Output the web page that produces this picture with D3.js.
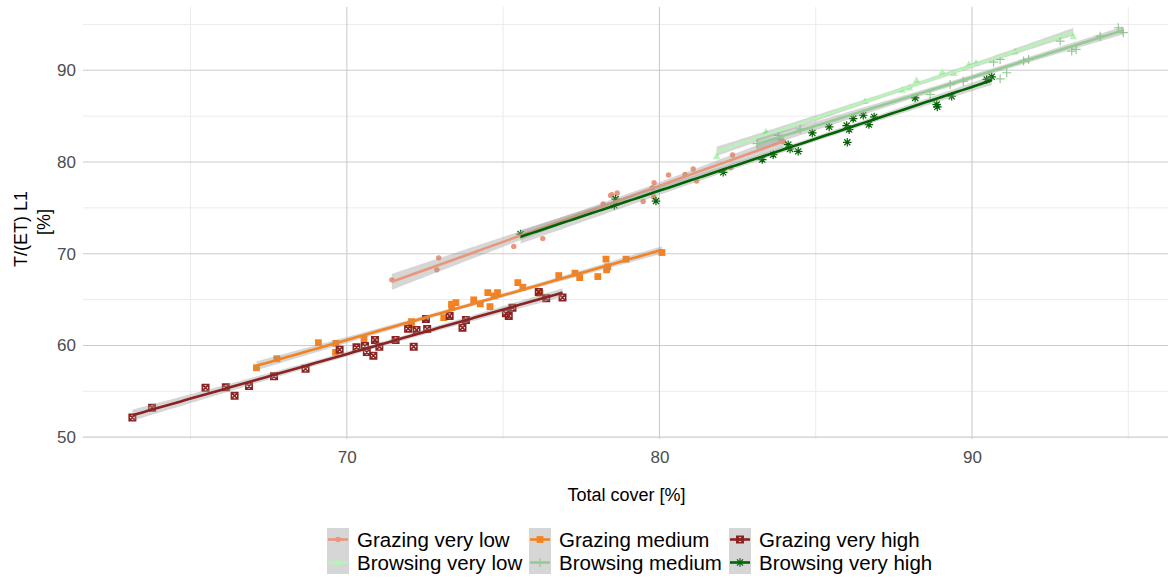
<!DOCTYPE html>
<html>
<head>
<meta charset="utf-8">
<script src="https://cdn.jsdelivr.net/npm/d3@7"></script>
<style>
  body { margin: 0; background: #fff; }
  svg { display: block; font-family: "Liberation Sans", Arial, sans-serif; }
</style>
</head>
<body>
<svg id="chart" width="1168" height="578"></svg>
<script>
// series order = ggplot factor order
const groups = ["Grazing very low", "Grazing medium", "Grazing very high",
                "Browsing very low", "Browsing medium", "Browsing very high"];
const colors = ["#e9967a", "#f58220", "#8b2323", "#b4f5b4", "#93cc93", "#006400"];
const shapes = ["circle", "square", "squarecross", "triangle", "plus", "asterisk"];

// total cover [%] / T/(ET) L1 [%]
const grazingVeryLowX = [71.44, 72.94, 72.88, 75.34, 76.27, 78.2, 78.44, 78.48, 78.65, 79.48, 79.83, 79.77, 79.82, 80.29, 80.82, 81.08, 81.19, 82.34, 82.29, 83.98];
const grazingVeryLowY = [67.15, 69.55, 68.24, 70.8, 71.65, 75.42, 76.36, 76.43, 76.62, 75.7, 77.74, 77.16, 76.18, 78.59, 78.65, 79.24, 77.93, 80.77, 79.38, 82.2];

const grazingMediumX = [67.11, 67.76, 69.09, 69.65, 69.64, 70.55, 72.07, 72.05, 73.1, 73.35, 73.49, 73.36, 74.06, 74.27, 74.51, 74.58, 74.82, 74.71, 75.47, 75.63, 76.18, 76.78, 77.3, 77.45, 78.03, 78.31, 78.29, 78.35, 78.93, 80.08];
const grazingMediumY = [57.57, 58.55, 60.3, 60.23, 59.25, 60.7, 62.6, 62.23, 63.03, 64.49, 64.67, 64.17, 64.97, 64.53, 65.76, 64.23, 65.76, 65.4, 66.85, 66.35, 65.69, 67.62, 67.88, 67.4, 67.51, 68.24, 69.41, 68.57, 69.41, 70.13];

const grazingVeryHighX = [63.14, 63.77, 65.48, 66.13, 66.41, 66.87, 67.67, 68.68, 69.77, 70.31, 70.58, 70.64, 70.9, 70.85, 71.04, 71.56, 72.14, 71.96, 72.23, 72.53, 72.57, 73.29, 73.7, 73.81, 75.09, 75.18, 75.3, 76.14, 76.38, 76.9];
const grazingVeryHighY = [52.15, 53.2, 55.39, 55.43, 54.51, 55.57, 56.63, 57.46, 59.54, 59.8, 59.94, 59.28, 60.6, 58.88, 59.86, 60.6, 59.86, 61.83, 61.69, 62.89, 61.8, 63.22, 61.94, 62.78, 63.51, 63.22, 64.12, 65.84, 65.15, 65.22];

const browsingVeryLowX = [81.83, 83.41, 86.58, 87.77, 88.0, 88.23, 89.05, 89.42, 89.9, 90.13, 91.38, 93.24];
const browsingVeryLowY = [80.6, 83.28, 86.6, 87.83, 88.09, 88.89, 89.79, 89.65, 90.63, 90.82, 92.02, 93.66];

const browsingMediumX = [83.12, 83.8, 83.85, 84.5, 88.66, 89.3, 89.72, 90.69, 90.9, 91.11, 90.9, 91.65, 91.81, 92.82, 93.19, 93.33, 94.1, 94.68, 94.84];
const browsingMediumY = [82.0, 82.9, 82.5, 83.6, 87.36, 88.45, 88.81, 90.88, 91.18, 89.73, 89.07, 91.0, 91.18, 93.18, 92.09, 92.27, 93.72, 94.64, 94.1];

const browsingVeryHighX = [75.56, 78.6, 78.56, 79.89, 82.04, 83.29, 83.64, 84.12, 84.18, 84.44, 84.89, 85.43, 85.99, 86.07, 86.01, 86.2, 86.52, 86.7, 86.87, 88.18, 88.87, 88.89, 89.35, 90.47, 90.63];
const browsingVeryHighY = [72.14, 75.96, 75.27, 75.74, 78.87, 80.26, 80.8, 81.89, 81.42, 81.16, 83.17, 83.83, 83.97, 83.53, 82.15, 84.74, 85.1, 84.08, 84.92, 86.99, 86.26, 86.01, 87.17, 89.0, 89.29];

const seriesX = [grazingVeryLowX, grazingMediumX, grazingVeryHighX, browsingVeryLowX, browsingMediumX, browsingVeryHighX];
const seriesY = [grazingVeryLowY, grazingMediumY, grazingVeryHighY, browsingVeryLowY, browsingMediumY, browsingVeryHighY];

const xMajor = [70, 80, 90];
const xMinor = [65, 75, 85, 95];
const yMajor = [50, 60, 70, 80, 90];
const yMinor = [55, 65, 75, 85, 95];

const svg = d3.select("#chart");
const panel = { left: 83, right: 1173, top: 7, bottom: 439 };

const x = d3.scaleLinear().domain([61.56, 96.43]).range([panel.left, panel.right]);
const y = d3.scaleLinear().domain([49.8, 96.9]).range([panel.bottom, panel.top]);

svg.append("defs").append("clipPath").attr("id", "clip")
  .append("rect")
  .attr("x", panel.left).attr("y", panel.top)
  .attr("width", panel.right - panel.left).attr("height", panel.bottom - panel.top);

// grid
const grid = svg.append("g");
grid.selectAll(".xminor").data(xMinor).enter().append("line")
  .attr("x1", d => x(d)).attr("x2", d => x(d))
  .attr("y1", panel.top).attr("y2", panel.bottom)
  .attr("stroke", "#ebebeb").attr("stroke-width", 1);
grid.selectAll(".yminor").data(yMinor).enter().append("line")
  .attr("y1", d => y(d)).attr("y2", d => y(d))
  .attr("x1", panel.left).attr("x2", panel.right)
  .attr("stroke", "#ebebeb").attr("stroke-width", 1);
grid.selectAll(".xmajor").data(xMajor).enter().append("line")
  .attr("x1", d => x(d)).attr("x2", d => x(d))
  .attr("y1", panel.top).attr("y2", panel.bottom)
  .attr("stroke", "#cccccc").attr("stroke-width", 1.1);
grid.selectAll(".ymajor").data(yMajor).enter().append("line")
  .attr("y1", d => y(d)).attr("y2", d => y(d))
  .attr("x1", panel.left).attr("x2", panel.right)
  .attr("stroke", "#cccccc").attr("stroke-width", 1.1);

// axes (labels only, ggplot minimal look)
const xAxis = svg.append("g")
  .attr("transform", `translate(0,${panel.bottom + 4})`)
  .call(d3.axisBottom(x).tickValues(xMajor).tickSize(0).tickPadding(8));
const yAxis = svg.append("g")
  .attr("transform", `translate(${panel.left - 4},0)`)
  .call(d3.axisLeft(y).tickValues(yMajor).tickSize(0).tickPadding(3));
[xAxis, yAxis].forEach(a => {
  a.select(".domain").remove();
  a.selectAll("text").attr("fill", "#4d4d4d").style("font-size", "17px")
    .style("font-family", "'Liberation Sans', Arial, sans-serif");
});

svg.append("text")
  .attr("x", (panel.left + 1168) / 2 + 1).attr("y", 501)
  .attr("text-anchor", "middle").style("font-size", "18px")
  .text("Total cover [%]");
svg.append("text")
  .attr("transform", "translate(27,229) rotate(-90)")
  .attr("text-anchor", "middle").style("font-size", "18px")
  .text("T/(ET) L1");
svg.append("text")
  .attr("transform", "translate(50,222) rotate(-90)")
  .attr("text-anchor", "middle").style("font-size", "18px")
  .text("[%]");

// point shapes
function shapePath(shape, s) {
  const h = s / 2;
  switch (shape) {
    case "circle": return d3.symbol().type(d3.symbolCircle).size(Math.PI * h * h)();
    case "square": return `M${-h},${-h}H${h}V${h}H${-h}Z`;
    case "squarecross": return `M${-h},${-h}H${h}V${h}H${-h}Z M${-h},${-h}L${h},${h} M${h},${-h}L${-h},${h}`;
    case "triangle": return `M0,${-h * 1.1}L${h},${h * 0.7}L${-h},${h * 0.7}Z`;
    case "plus": return `M${-h},0H${h} M0,${-h}V${h}`;
    case "asterisk": {
      const d = h * 0.72;
      return `M${-h},0H${h} M0,${-h}V${h} M${-d},${-d}L${d},${d} M${d},${-d}L${-d},${d}`;
    }
  }
}
function drawShape(sel, shape, color, s) {
  const p = sel.append("path").attr("d", shapePath(shape, s));
  if (shape === "circle" || shape === "square" || shape === "triangle") {
    p.attr("fill", color);
  } else if (shape === "squarecross") {
    p.attr("fill", "none").attr("stroke", color).attr("stroke-width", 1.6);
  } else {
    p.attr("fill", "none").attr("stroke", color).attr("stroke-width", 1.2);
  }
  return p;
}
const pointSize = [5.4, 6.8, 6.4, 7.5, 9, 8.5];

const plot = svg.append("g").attr("clip-path", "url(#clip)");

// points layer
groups.forEach((g, i) => {
  const pts = seriesX[i].map((v, j) => ({ x: v, y: seriesY[i][j] }));
  pts.forEach(p => {
    const m = plot.append("g").attr("transform", `translate(${x(p.x)},${y(p.y)})`);
    drawShape(m, shapes[i], colors[i], pointSize[i]);
  });
});

// linear fit with 95% band (geom_smooth method = "lm")
function fitLm(xs, ys) {
  const n = xs.length;
  const mx = d3.mean(xs), my = d3.mean(ys);
  let sxx = 0, sxy = 0;
  xs.forEach((v, i) => { sxx += (v - mx) ** 2; sxy += (v - mx) * (ys[i] - my); });
  const b = sxy / sxx, a = my - b * mx;
  let sse = 0;
  xs.forEach((v, i) => { sse += (ys[i] - a - b * v) ** 2; });
  const s = Math.sqrt(sse / (n - 2));
  const t = 1.96 + 2.4 / (n - 2);
  const [lo, hi] = d3.extent(xs);
  return d3.range(0, 81).map(k => {
    const xv = lo + (hi - lo) * k / 80;
    const fit = a + b * xv;
    const se = s * Math.sqrt(1 / n + (xv - mx) ** 2 / sxx);
    return { x: xv, y: fit, lo: fit - t * se, hi: fit + t * se };
  });
}

groups.forEach((g, i) => {
  const fit = fitLm(seriesX[i], seriesY[i]);
  plot.append("path")
    .attr("d", d3.area().x(d => x(d.x)).y0(d => y(d.lo)).y1(d => y(d.hi))(fit))
    .attr("fill", "#999999").attr("fill-opacity", 0.4);
  plot.append("path")
    .attr("d", d3.line().x(d => x(d.x)).y(d => y(d.y))(fit))
    .attr("fill", "none").attr("stroke", colors[i]).attr("stroke-width", 2.6);
});

// legend: 2 rows (grazing / browsing), 3 columns (very low / medium / very high)
const legendCols = [327, 529, 729];
const legendRows = [528, 551];
const keyW = 22, keyH = 23;
const legend = svg.append("g");
groups.forEach((g, i) => {
  const cx = legendCols[i % 3], cy = legendRows[Math.floor(i / 3)];
  const item = legend.append("g").attr("transform", `translate(${cx},${cy})`);
  item.append("rect").attr("width", keyW).attr("height", keyH).attr("fill", "#d6d6d6");
  item.append("line")
    .attr("x1", 1).attr("x2", keyW - 1).attr("y1", keyH / 2).attr("y2", keyH / 2)
    .attr("stroke", colors[i]).attr("stroke-width", 2.6);
  const m = item.append("g").attr("transform", `translate(${keyW / 2},${keyH / 2})`);
  drawShape(m, shapes[i], colors[i], pointSize[i]);
  item.append("text")
    .attr("x", keyW + 8).attr("y", keyH / 2).attr("dy", "0.35em")
    .style("font-size", "20.5px").attr("fill", "#000")
    .text(g);
});
</script>
</body>
</html>
